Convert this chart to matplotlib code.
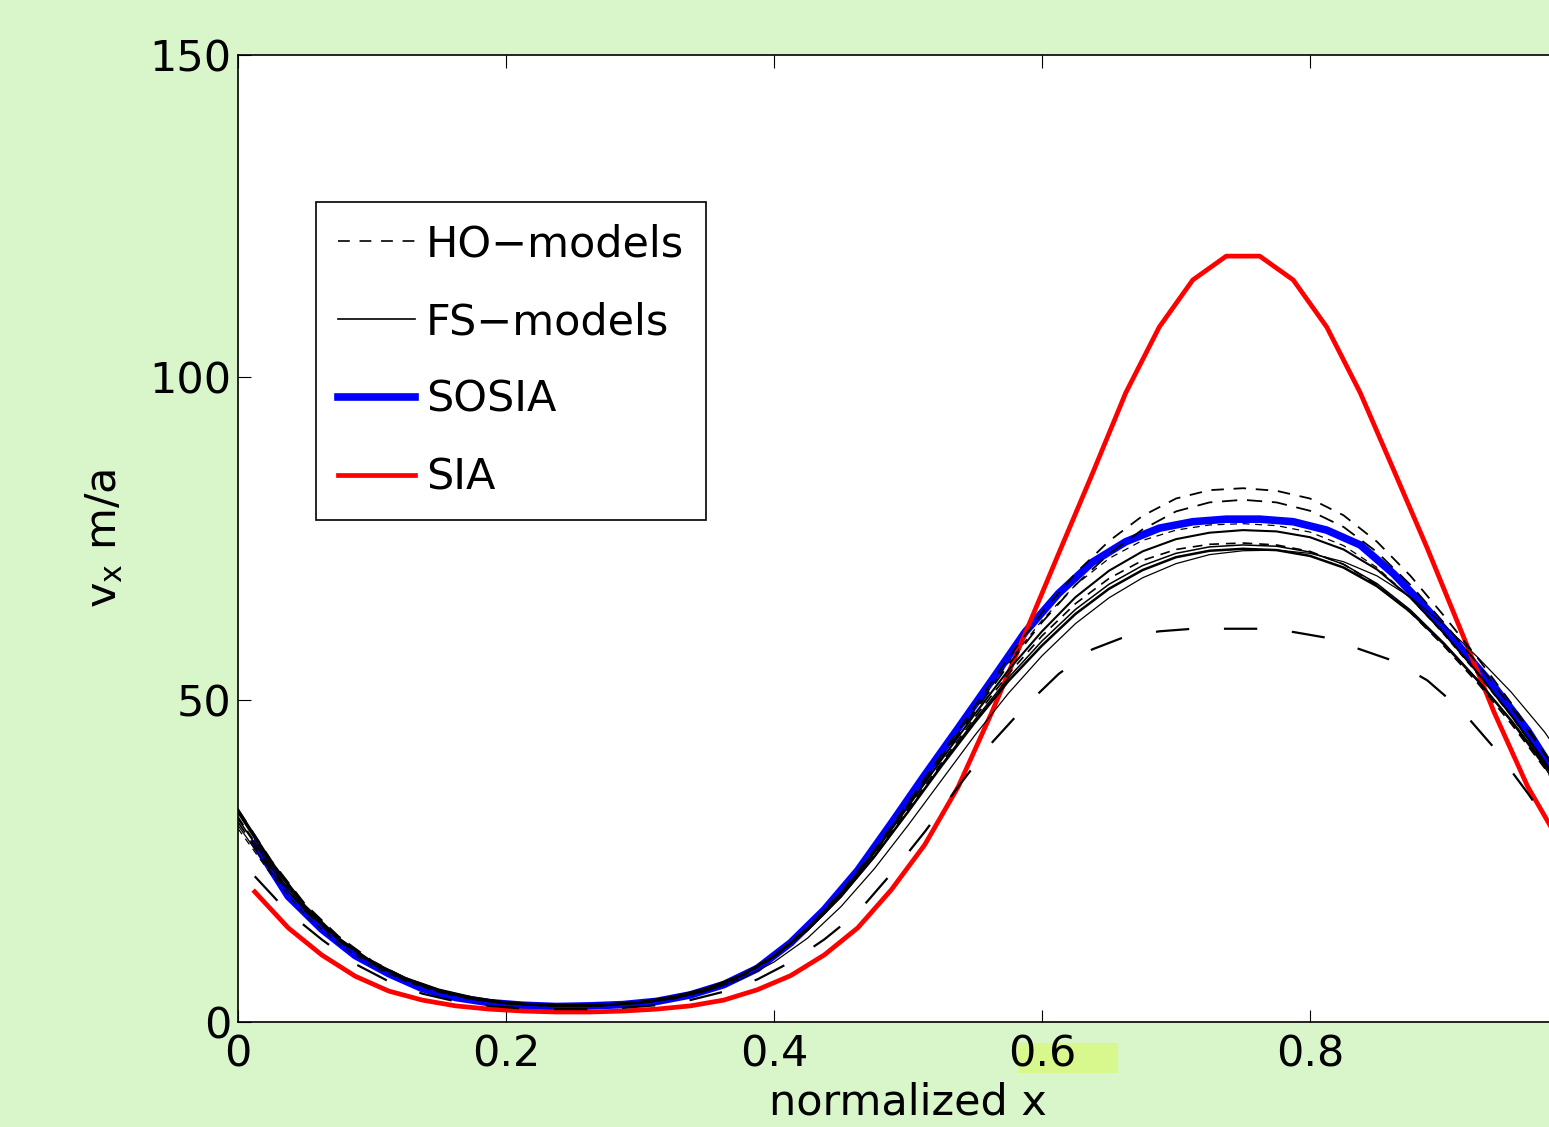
import numpy as np
import matplotlib
matplotlib.use('Agg')
import matplotlib.pyplot as plt
from matplotlib.lines import Line2D
from matplotlib.patches import Rectangle

plt.rcParams['font.family'] = ['DejaVu Sans']
plt.rcParams['mathtext.fontset'] = 'dejavusans'
plt.rcParams['lines.scale_dashes'] = False

# SIA / SOSIA are on a staggered grid, the HO / FS models on a 0..1 grid
x_sia = np.linspace(0.0125, 0.9875, 40)
x_mod = np.linspace(0.0, 1.0, 41)

sia = [20.2, 14.6, 10.4, 7.1, 4.8, 3.4, 2.5, 2.0, 1.7, 1.55,
       1.55, 1.7, 2.0, 2.5, 3.4, 5.0, 7.2, 10.4, 14.6, 20.5,
       27.5, 36.5, 48.0, 60.3, 72.7, 85.0, 97.6, 107.8, 115.1, 118.8,
       118.8, 115.1, 107.8, 97.6, 85.6, 73.5, 60.8, 48.0, 36.5, 27.5]

sosia = [27.7, 19.5, 14.4, 10.3, 7.5, 5.2, 3.8, 3.0, 2.6, 2.4,
         2.5, 2.7, 3.2, 4.2, 5.8, 8.3, 12.3, 17.4, 23.5, 30.8,
         38.3, 45.6, 53.0, 60.5, 66.5, 71.3, 74.5, 76.6, 77.6, 78.0,
         78.0, 77.6, 76.3, 74.0, 69.5, 64.0, 58.0, 52.0, 45.2, 37.0]

# higher order models (dashed)
ho_a = [31.0, 23.5, 17.2, 12.6, 9.0, 6.5, 4.7, 3.5, 2.9, 2.6, 2.5,
        2.6, 3.0, 3.8, 5.1, 7.1, 10.2, 14.6, 20.1, 26.7, 34.0,
        41.5, 49.0, 56.5, 63.5, 69.6, 74.6, 78.5, 81.2, 82.5, 82.8,
        82.4, 81.2, 78.6, 74.5, 69.2, 63.0, 56.5, 49.5, 41.8, 33.5]
ho_b = [33.0, 25.0, 18.3, 13.3, 9.5, 6.8, 4.9, 3.7, 3.0, 2.7, 2.6,
        2.7, 3.1, 3.9, 5.2, 7.2, 10.3, 14.6, 20.0, 26.4, 33.5,
        40.9, 48.2, 55.4, 62.0, 67.8, 72.6, 76.4, 79.2, 80.6, 81.0,
        80.6, 79.3, 76.8, 72.9, 67.8, 61.9, 55.6, 48.9, 41.6, 33.0]
ho_c = [30.0, 22.8, 16.6, 12.1, 8.7, 6.3, 4.6, 3.5, 2.8, 2.5, 2.4,
        2.5, 2.9, 3.6, 4.9, 6.9, 10.0, 14.4, 19.9, 26.5, 33.8,
        41.2, 48.5, 55.8, 62.3, 67.8, 71.9, 74.7, 76.3, 77.1, 77.3,
        77.0, 76.0, 73.9, 70.5, 65.8, 60.1, 54.0, 47.5, 40.3, 32.0]
ho_d = [31.8, 24.0, 17.5, 12.7, 9.1, 6.6, 4.8, 3.6, 2.9, 2.6, 2.5,
        2.6, 3.0, 3.8, 5.1, 7.1, 10.1, 14.3, 19.6, 25.9, 33.0,
        40.2, 47.3, 54.0, 59.9, 64.9, 68.8, 71.6, 73.3, 74.1, 74.3,
        74.0, 73.0, 71.0, 67.8, 63.5, 58.3, 52.6, 46.3, 39.4, 31.8]
x_ho_e = np.linspace(0.0125, 0.9875, 40)
ho_e = [22.6, 17.0, 12.8, 9.0, 6.3, 4.4, 3.2, 2.5, 2.1, 2.0,
        2.0, 2.2, 2.6, 3.4, 4.7, 6.6, 9.3, 12.8, 17.0, 23.0,
        29.5, 36.5, 43.3, 49.0, 54.0, 57.8, 59.8, 60.6, 61.0, 61.0,
        61.0, 60.5, 59.6, 57.8, 56.0, 53.0, 48.5, 42.5, 35.5, 28.0]

# full Stokes models (solid)
fs_a = [32.5, 24.5, 17.8, 12.9, 9.2, 6.6, 4.8, 3.6, 2.9, 2.6, 2.5,
        2.6, 3.0, 3.8, 5.1, 7.1, 10.2, 14.5, 19.9, 26.3, 33.4,
        40.7, 47.8, 54.6, 60.6, 65.9, 70.0, 73.0, 74.9, 75.9, 76.3,
        76.1, 75.2, 73.3, 70.2, 65.8, 60.3, 54.2, 47.6, 40.4, 32.5]
fs_b = [32.9, 24.8, 18.0, 13.0, 9.3, 6.7, 4.9, 3.7, 3.0, 2.7, 2.6,
        2.7, 3.1, 3.9, 5.2, 7.2, 10.2, 14.3, 19.5, 25.7, 32.6,
        39.7, 46.5, 52.9, 58.4, 63.3, 67.2, 70.1, 72.1, 73.1, 73.4,
        73.2, 72.3, 70.5, 67.6, 63.6, 58.6, 53.0, 46.8, 40.0, 32.9]
fs_c = [30.5, 23.2, 17.3, 12.8, 9.4, 6.9, 5.1, 3.9, 3.1, 2.7, 2.5,
        2.6, 2.9, 3.6, 4.8, 6.6, 9.3, 13.0, 17.9, 23.8, 30.5,
        37.5, 44.5, 51.0, 56.8, 61.8, 65.8, 68.9, 71.1, 72.5, 73.1,
        73.2, 72.7, 71.4, 69.2, 65.9, 61.6, 56.6, 51.2, 45.0, 37.5]
fs_d = [31.5, 23.9, 17.5, 12.8, 9.2, 6.6, 4.8, 3.6, 2.9, 2.6, 2.5,
        2.6, 3.0, 3.8, 5.1, 7.1, 10.1, 14.2, 19.4, 25.6, 32.6,
        39.9, 46.9, 53.4, 59.1, 64.0, 67.9, 70.8, 72.7, 73.7, 74.0,
        73.8, 72.9, 71.0, 68.0, 63.9, 58.8, 53.1, 46.7, 39.6, 31.5]

ho_models = [ho_a, ho_b, ho_c, ho_d]
ho_dash = [(9, 7), (11, 7), (5, 4), (7, 5)]
ho_lw = [1.3, 1.3, 0.9, 1.2]
fs_models = [fs_a, fs_b, fs_c, fs_d]
fs_lw = [1.5, 1.8, 0.9, 1.1]

fig = plt.figure(figsize=(15.49, 11.27), dpi=100)
fig.patch.set_facecolor('#d9f6ca')
fig.add_artist(Rectangle((1018 / 1549, 1 - 1073 / 1127), 100 / 1549, 30 / 1127,
                         transform=fig.transFigure, facecolor='#d8f78c',
                         edgecolor='none', zorder=-1))

ax = fig.add_axes([238 / 1549, 105 / 1127, 1340 / 1549, 967 / 1127])
ax.set_facecolor('white')

ax.plot(x_sia, sosia, color='blue', lw=5.5)
ax.plot(x_sia, sia, color='red', lw=3.4)
for v, d, w in zip(ho_models, ho_dash, ho_lw):
    ax.plot(x_mod, v, color='black', lw=w, dashes=d)
ax.plot(x_ho_e, ho_e, color='black', lw=1.6, dashes=(24, 25))
for v, w in zip(fs_models, fs_lw):
    ax.plot(x_mod, v, color='black', lw=w)

ax.set_xlim(0, 1)
ax.set_ylim(0, 150)
ax.set_xticks([0, 0.2, 0.4, 0.6, 0.8])
ax.set_xticklabels(['0', '0.2', '0.4', '0.6', '0.8'])
ax.set_yticks([0, 50, 100, 150])
ax.tick_params(direction='in', length=9, width=0.8, labelsize=31,
               top=True, right=True, pad=8)
ax.tick_params(axis='y', pad=5)
for s in ax.spines.values():
    s.set_linewidth(1.2)

ax.set_xlabel('normalized x', fontsize=31)
ax.xaxis.set_label_coords(0.5, -0.062)
ax.set_ylabel(r'v$_{\mathregular{x}}$ m/a', fontsize=31)
ax.yaxis.set_label_coords(-0.084, 0.5)

handles = [Line2D([], [], color='black', lw=1.2, dashes=(8.5, 7)),
           Line2D([], [], color='black', lw=1.2),
           Line2D([], [], color='blue', lw=5.5),
           Line2D([], [], color='red', lw=3.4)]
labels = ['HO\u2212models', 'FS\u2212models', 'SOSIA', 'SIA']
leg = ax.legend(handles, labels, loc='upper left',
                bbox_to_anchor=(316 / 1549, 1 - 202 / 1127),
                bbox_transform=fig.transFigure, fontsize=31,
                handlelength=1.8, handletextpad=0.25, labelspacing=0.83,
                borderpad=0.5, borderaxespad=0, fancybox=False,
                framealpha=1, edgecolor='black')
leg.get_frame().set_linewidth(1.2)

fig.savefig('out.png', dpi=100, facecolor=fig.get_facecolor())
